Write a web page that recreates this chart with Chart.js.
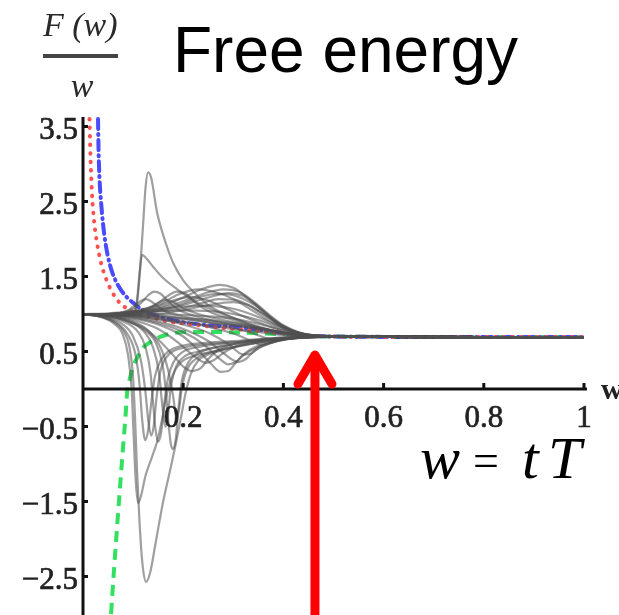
<!DOCTYPE html>
<html>
<head>
<meta charset="utf-8">
<script src="https://cdn.jsdelivr.net/npm/chart.js"></script>
<style>
  html, body { margin: 0; padding: 0; background: #fff; }
  canvas { display: block; }
</style>
</head>
<body>
<canvas id="freeEnergyChart" width="619" height="615"></canvas>
<script>
// axis ticks
const xTickValues = [0.2, 0.4, 0.6, 0.8, 1];
const xTickLabels = ['0.2', '0.4', '0.6', '0.8', '1'];
const yTickValues = [3.5, 2.5, 1.5, 0.5, -0.5, -1.5, -2.5];
const yTickLabels = ['3.5', '2.5', '1.5', '0.5', '\u22120.5', '\u22121.5', '\u22122.5'];

// F(w)/w against w, each curve as [w, F/w]
const redCurve = [[0.013, 3.6], [0.015, 3.1], [0.018, 2.6], [0.022, 2.25], [0.028, 1.95], [0.036, 1.68],
  [0.046, 1.47], [0.056, 1.32], [0.066, 1.21], [0.076, 1.13], [0.084, 1.09], [0.1, 1.03], [0.13, 0.97],
  [0.17, 0.9], [0.22, 0.86], [0.27, 0.82], [0.32, 0.79], [0.36, 0.77], [0.4, 0.74], [0.45, 0.71],
  [0.5, 0.7], [0.6, 0.695], [0.8, 0.693], [1, 0.693]];

const blueCurve = [[0.03, 3.6], [0.031, 3.2], [0.033, 2.8], [0.036, 2.5], [0.04, 2.2], [0.046, 1.9],
  [0.054, 1.65], [0.064, 1.46], [0.076, 1.32], [0.088, 1.22], [0.1, 1.15], [0.12, 1.05], [0.15, 0.97],
  [0.2, 0.89], [0.25, 0.85], [0.3, 0.83], [0.35, 0.79], [0.4, 0.745], [0.45, 0.71], [0.5, 0.7],
  [0.6, 0.695], [0.8, 0.693], [1, 0.693]];

const greenCurve = [[0.056, -3.0], [0.062, -2.4], [0.068, -1.84], [0.074, -1.3], [0.08, -0.77], [0.085, -0.35],
  [0.088, -0.05], [0.094, 0.15], [0.1, 0.3], [0.11, 0.44], [0.12, 0.55], [0.135, 0.63], [0.148, 0.68],
  [0.165, 0.72], [0.184, 0.75], [0.22, 0.76], [0.27, 0.76], [0.33, 0.75], [0.4, 0.73], [0.45, 0.71],
  [0.5, 0.7], [0.6, 0.695], [0.8, 0.693], [1, 0.693]];

const grayCurves = [
  // bumps above the bundle
  [[0, 1], [0.05, 1.0], [0.1, 1.03], [0.15, 1.08], [0.2, 1.22], [0.24, 1.34], [0.273, 1.39], [0.3, 1.35], [0.32, 1.26], [0.345, 1.12], [0.367, 0.99], [0.4, 0.81], [0.427, 0.75], [0.45, 0.72], [0.5, 0.703], [0.6, 0.695], [0.8, 0.693], [1, 0.693]],
  [[0, 1], [0.05, 1.01], [0.1, 1.04], [0.15, 1.12], [0.19, 1.26], [0.23, 1.33], [0.26, 1.3], [0.3, 1.2], [0.34, 1.04], [0.38, 0.88], [0.42, 0.77], [0.46, 0.715], [0.5, 0.703], [0.6, 0.695], [0.8, 0.693], [1, 0.693]],
  [[0, 1], [0.05, 0.99], [0.1, 1.0], [0.15, 1.04], [0.2, 1.12], [0.25, 1.22], [0.29, 1.28], [0.32, 1.24], [0.35, 1.1], [0.38, 0.93], [0.41, 0.8], [0.44, 0.73], [0.48, 0.705], [0.6, 0.695], [0.8, 0.693], [1, 0.693]],
  [[0, 1], [0.05, 1.0], [0.1, 1.02], [0.14, 1.08], [0.18, 1.18], [0.215, 1.23], [0.25, 1.18], [0.29, 1.06], [0.33, 0.94], [0.37, 0.84], [0.41, 0.76], [0.45, 0.715], [0.5, 0.702], [0.6, 0.695], [0.8, 0.693], [1, 0.693]],
  [[0, 1], [0.05, 0.99], [0.1, 0.99], [0.15, 1.0], [0.2, 1.05], [0.25, 1.12], [0.3, 1.16], [0.33, 1.12], [0.36, 1.0], [0.39, 0.87], [0.42, 0.77], [0.45, 0.72], [0.5, 0.703], [0.6, 0.695], [0.8, 0.693], [1, 0.693]],
  [[0, 1], [0.05, 1.0], [0.1, 1.01], [0.15, 1.05], [0.2, 1.14], [0.24, 1.24], [0.27, 1.27], [0.3, 1.25], [0.34, 1.13], [0.37, 0.98], [0.4, 0.84], [0.43, 0.75], [0.46, 0.712], [0.5, 0.703], [0.6, 0.695], [0.8, 0.693], [1, 0.693]],
  [[0, 1], [0.05, 1.0], [0.1, 1.02], [0.15, 1.07], [0.2, 1.17], [0.25, 1.29], [0.28, 1.33], [0.31, 1.3], [0.34, 1.17], [0.37, 1.0], [0.4, 0.85], [0.43, 0.76], [0.46, 0.715], [0.5, 0.703], [0.6, 0.695], [0.8, 0.693], [1, 0.693]],
  [[0, 1], [0.05, 1.0], [0.1, 1.01], [0.15, 1.03], [0.2, 1.08], [0.24, 1.15], [0.27, 1.2], [0.31, 1.18], [0.34, 1.08], [0.37, 0.95], [0.4, 0.83], [0.43, 0.75], [0.46, 0.712], [0.5, 0.703], [0.6, 0.695], [0.8, 0.693], [1, 0.693]],
  // early small bumps
  [[0, 1], [0.05, 1.0], [0.09, 1.04], [0.115, 1.14], [0.13, 1.25], [0.142, 1.3], [0.155, 1.27], [0.17, 1.17], [0.19, 1.06], [0.22, 0.98], [0.27, 0.9], [0.33, 0.82], [0.39, 0.75], [0.44, 0.71], [0.5, 0.7], [0.6, 0.695], [0.8, 0.693], [1, 0.693]],
  [[0, 1], [0.05, 1.0], [0.1, 1.03], [0.14, 1.1], [0.165, 1.22], [0.187, 1.3], [0.205, 1.27], [0.225, 1.15], [0.25, 1.04], [0.29, 0.94], [0.34, 0.84], [0.4, 0.75], [0.45, 0.71], [0.5, 0.7], [0.6, 0.695], [0.8, 0.693], [1, 0.693]],
  [[0, 1], [0.05, 1.0], [0.1, 1.02], [0.13, 1.08], [0.15, 1.15], [0.165, 1.19], [0.18, 1.16], [0.2, 1.08], [0.23, 1.0], [0.28, 0.92], [0.34, 0.83], [0.4, 0.75], [0.45, 0.71], [0.5, 0.7], [0.6, 0.695], [0.8, 0.693], [1, 0.693]],
  [[0, 1], [0.05, 1.0], [0.09, 1.05], [0.11, 1.15], [0.125, 1.2], [0.14, 1.15], [0.16, 1.05], [0.2, 0.97], [0.26, 0.9], [0.32, 0.83], [0.38, 0.76], [0.44, 0.71], [0.5, 0.7], [0.6, 0.695], [0.8, 0.693], [1, 0.693]],
  // spikes
  [[0, 1], [0.05, 0.99], [0.09, 0.98], [0.102, 1.0], [0.108, 1.15], [0.114, 1.6], [0.12, 2.2], [0.125, 2.7], [0.13, 2.89], [0.136, 2.82], [0.148, 2.35], [0.165, 1.95], [0.18, 1.68], [0.2, 1.45], [0.217, 1.32], [0.25, 1.12], [0.3, 0.95], [0.35, 0.82], [0.4, 0.75], [0.45, 0.71], [0.5, 0.7], [0.7, 0.694], [1, 0.693]],
  [[0, 1], [0.05, 0.99], [0.09, 0.99], [0.102, 1.02], [0.108, 1.2], [0.113, 1.55], [0.118, 1.79], [0.124, 1.76], [0.14, 1.63], [0.16, 1.48], [0.19, 1.32], [0.22, 1.18], [0.26, 1.05], [0.32, 0.9], [0.38, 0.78], [0.44, 0.72], [0.5, 0.7], [0.7, 0.694], [1, 0.693]],
  // middle of the bundle
  [[0, 1], [0.05, 1.0], [0.1, 1.0], [0.15, 0.98], [0.2, 0.95], [0.25, 0.92], [0.3, 0.88], [0.35, 0.82], [0.4, 0.75], [0.45, 0.71], [0.5, 0.7], [0.6, 0.695], [0.8, 0.693], [1, 0.693]],
  [[0, 1], [0.05, 0.99], [0.1, 0.97], [0.15, 0.93], [0.2, 0.89], [0.25, 0.85], [0.3, 0.8], [0.35, 0.76], [0.4, 0.72], [0.45, 0.7], [0.5, 0.697], [0.6, 0.694], [0.8, 0.693], [1, 0.693]],
  [[0, 1], [0.05, 1.0], [0.1, 1.02], [0.15, 1.04], [0.2, 1.05], [0.25, 1.04], [0.3, 1.0], [0.35, 0.92], [0.4, 0.8], [0.44, 0.73], [0.5, 0.702], [0.6, 0.695], [0.8, 0.693], [1, 0.693]],
  [[0, 1], [0.05, 1.0], [0.1, 1.03], [0.15, 1.06], [0.2, 1.1], [0.25, 1.11], [0.3, 1.07], [0.35, 0.96], [0.39, 0.84], [0.43, 0.75], [0.47, 0.71], [0.52, 0.7], [0.6, 0.695], [0.8, 0.693], [1, 0.693]],
  [[0, 1], [0.05, 0.99], [0.1, 0.98], [0.15, 0.96], [0.2, 0.93], [0.26, 0.88], [0.32, 0.84], [0.38, 0.78], [0.43, 0.72], [0.5, 0.7], [0.6, 0.695], [0.8, 0.693], [1, 0.693]],
  [[0, 1], [0.05, 1.0], [0.1, 1.01], [0.15, 1.0], [0.2, 0.99], [0.25, 0.97], [0.3, 0.94], [0.35, 0.87], [0.4, 0.78], [0.44, 0.72], [0.5, 0.701], [0.6, 0.695], [0.8, 0.693], [1, 0.693]],
  // loops below the bundle
  [[0, 1], [0.04, 0.98], [0.08, 0.93], [0.12, 0.82], [0.15, 0.66], [0.18, 0.45], [0.2, 0.3], [0.218, 0.24], [0.235, 0.28], [0.25, 0.4], [0.27, 0.52], [0.3, 0.6], [0.35, 0.66], [0.4, 0.69], [0.45, 0.7], [0.5, 0.7], [0.6, 0.695], [0.8, 0.693], [1, 0.693]],
  [[0, 1], [0.05, 0.98], [0.1, 0.94], [0.15, 0.86], [0.2, 0.7], [0.23, 0.52], [0.255, 0.34], [0.275, 0.23], [0.29, 0.24], [0.305, 0.35], [0.32, 0.46], [0.35, 0.58], [0.4, 0.66], [0.45, 0.69], [0.5, 0.7], [0.6, 0.695], [0.8, 0.693], [1, 0.693]],
  [[0, 1], [0.05, 0.99], [0.1, 0.96], [0.15, 0.9], [0.2, 0.8], [0.25, 0.64], [0.28, 0.48], [0.31, 0.36], [0.325, 0.4], [0.34, 0.5], [0.37, 0.6], [0.41, 0.67], [0.46, 0.695], [0.5, 0.7], [0.6, 0.695], [0.8, 0.693], [1, 0.693]],
  [[0, 1], [0.05, 0.99], [0.1, 0.97], [0.15, 0.93], [0.2, 0.86], [0.25, 0.75], [0.29, 0.6], [0.32, 0.46], [0.335, 0.47], [0.35, 0.55], [0.38, 0.63], [0.42, 0.68], [0.47, 0.697], [0.6, 0.695], [0.8, 0.693], [1, 0.693]],
  [[0, 1], [0.05, 0.99], [0.1, 0.98], [0.15, 0.95], [0.2, 0.9], [0.25, 0.83], [0.3, 0.74], [0.34, 0.63], [0.355, 0.59], [0.37, 0.61], [0.4, 0.66], [0.44, 0.69], [0.5, 0.7], [0.6, 0.695], [0.8, 0.693], [1, 0.693]],
  [[0, 1], [0.1, 0.99], [0.2, 0.94], [0.28, 0.85], [0.34, 0.74], [0.37, 0.67], [0.385, 0.65], [0.4, 0.66], [0.43, 0.68], [0.47, 0.695], [0.5, 0.7], [0.6, 0.695], [0.8, 0.693], [1, 0.693]],
  [[0, 1], [0.05, 0.98], [0.1, 0.92], [0.15, 0.8], [0.19, 0.62], [0.22, 0.45], [0.245, 0.35], [0.26, 0.38], [0.28, 0.48], [0.31, 0.58], [0.36, 0.65], [0.42, 0.69], [0.5, 0.7], [0.6, 0.695], [0.8, 0.693], [1, 0.693]],
  [[0, 1], [0.05, 0.99], [0.1, 0.95], [0.15, 0.88], [0.2, 0.76], [0.24, 0.6], [0.27, 0.42], [0.29, 0.33], [0.305, 0.36], [0.32, 0.45], [0.35, 0.56], [0.39, 0.64], [0.44, 0.69], [0.5, 0.7], [0.6, 0.695], [0.8, 0.693], [1, 0.693]],
  // dips below zero
  [[0, 1], [0.03, 0.97], [0.06, 0.9], [0.08, 0.78], [0.093, 0.55], [0.1, 0.15], [0.104, -0.4], [0.108, -1.1], [0.113, -1.8], [0.119, -2.35], [0.126, -2.57], [0.134, -2.45], [0.145, -2.05], [0.16, -1.5], [0.175, -1.05], [0.184, -0.77], [0.195, -0.4], [0.205, -0.05], [0.215, 0.2], [0.23, 0.38], [0.25, 0.46], [0.28, 0.52], [0.32, 0.58], [0.37, 0.64], [0.42, 0.68], [0.47, 0.695], [0.5, 0.7], [0.6, 0.695], [0.8, 0.693], [1, 0.693]],
  [[0, 1], [0.03, 0.97], [0.06, 0.88], [0.08, 0.72], [0.09, 0.45], [0.097, 0.0], [0.101, -0.6], [0.105, -1.2], [0.11, -1.52], [0.116, -1.42], [0.125, -1.15], [0.138, -0.9], [0.148, -0.7], [0.158, -0.4], [0.168, -0.05], [0.18, 0.2], [0.195, 0.35], [0.22, 0.44], [0.26, 0.5], [0.3, 0.56], [0.35, 0.62], [0.41, 0.67], [0.47, 0.695], [0.5, 0.7], [0.6, 0.695], [0.8, 0.693], [1, 0.693]],
  [[0, 1], [0.04, 0.96], [0.07, 0.87], [0.09, 0.72], [0.105, 0.45], [0.113, 0.05], [0.118, -0.4], [0.124, -0.68], [0.13, -0.55], [0.136, -0.2], [0.143, 0.15], [0.155, 0.38], [0.17, 0.5], [0.2, 0.58], [0.25, 0.62], [0.3, 0.64], [0.36, 0.67], [0.42, 0.69], [0.5, 0.7], [0.6, 0.695], [0.8, 0.693], [1, 0.693]],
  [[0, 1], [0.04, 0.97], [0.08, 0.9], [0.11, 0.76], [0.125, 0.55], [0.135, 0.2], [0.14, -0.2], [0.145, -0.55], [0.15, -0.7], [0.156, -0.58], [0.162, -0.2], [0.17, 0.15], [0.18, 0.35], [0.2, 0.5], [0.23, 0.56], [0.27, 0.6], [0.33, 0.64], [0.4, 0.68], [0.47, 0.697], [0.6, 0.695], [0.8, 0.693], [1, 0.693]],
  [[0, 1], [0.05, 0.97], [0.09, 0.9], [0.12, 0.8], [0.145, 0.62], [0.158, 0.35], [0.165, 0.0], [0.17, -0.4], [0.175, -0.72], [0.179, -0.8], [0.185, -0.68], [0.19, -0.3], [0.197, 0.1], [0.21, 0.35], [0.23, 0.48], [0.26, 0.55], [0.3, 0.6], [0.36, 0.65], [0.42, 0.685], [0.5, 0.7], [0.6, 0.695], [0.8, 0.693], [1, 0.693]],
  [[0, 1], [0.04, 0.96], [0.08, 0.86], [0.1, 0.7], [0.115, 0.4], [0.124, 0.0], [0.13, -0.4], [0.136, -0.62], [0.141, -0.5], [0.147, -0.1], [0.155, 0.25], [0.17, 0.45], [0.2, 0.55], [0.25, 0.6], [0.31, 0.63], [0.38, 0.67], [0.45, 0.69], [0.5, 0.7], [0.6, 0.695], [0.8, 0.693], [1, 0.693]],
  [[0, 1], [0.05, 0.97], [0.09, 0.9], [0.12, 0.78], [0.14, 0.55], [0.152, 0.2], [0.158, -0.2], [0.164, -0.5], [0.169, -0.4], [0.174, -0.05], [0.183, 0.25], [0.2, 0.42], [0.23, 0.5], [0.27, 0.56], [0.33, 0.62], [0.4, 0.67], [0.47, 0.695], [0.6, 0.695], [0.8, 0.693], [1, 0.693]],
  [[0, 1], [0.05, 0.98], [0.1, 0.9], [0.13, 0.78], [0.155, 0.55], [0.17, 0.25], [0.18, -0.1], [0.186, -0.35], [0.191, -0.3], [0.197, 0.0], [0.207, 0.25], [0.225, 0.4], [0.26, 0.5], [0.3, 0.56], [0.36, 0.63], [0.43, 0.68], [0.5, 0.7], [0.6, 0.695], [0.8, 0.693], [1, 0.693]]
];

// red arrow marking where the curves settle
const arrowW = 0.463;
const arrowTip = 0.48;

const toPoints = curve => curve.map(p => ({ x: p[0], y: p[1] }));

// gray family drawn over the three coloured limits
const datasets = [];
grayCurves.forEach(curve => {
  datasets.push({
    data: toPoints(curve),
    borderColor: 'rgba(80, 80, 80, 0.55)',
    borderWidth: 2.2,
    order: 1
  });
});
datasets.push({
  data: toPoints(redCurve),
  borderColor: '#ff5050',
  borderWidth: 4,
  borderDash: [0.5, 8],
  borderCapStyle: 'round',
  order: 2
});
datasets.push({
  data: toPoints(blueCurve),
  borderColor: '#4a4aff',
  borderWidth: 4,
  borderDash: [10, 5, 1, 5],
  borderCapStyle: 'round',
  order: 2
});
datasets.push({
  data: toPoints(greenCurve),
  borderColor: '#33e060',
  borderWidth: 4,
  borderDash: [11, 7],
  order: 2
});

// the plot itself comes from a soft scan, the slide text on top is sharp
const decorations = {
  id: 'decorations',
  beforeDatasetsDraw(chart) {
    chart.ctx.filter = 'blur(0.6px)';
  },
  afterDatasetsDraw(chart) {
    const ctx = chart.ctx;
    const xs = chart.scales.x;
    const ys = chart.scales.y;
    const area = chart.chartArea;
    const x0 = xs.getPixelForValue(0);
    const y0 = ys.getPixelForValue(0);

    ctx.save();
    ctx.filter = 'blur(0.6px)';
    ctx.strokeStyle = '#111';
    ctx.fillStyle = '#111';
    ctx.lineWidth = 3;

    // y axis
    ctx.beginPath();
    ctx.moveTo(x0, area.top);
    ctx.lineTo(x0, area.bottom);
    ctx.stroke();
    // x axis
    ctx.beginPath();
    ctx.moveTo(x0, y0);
    ctx.lineTo(xs.getPixelForValue(1) + 3, y0);
    ctx.stroke();

    // tick marks
    xTickValues.forEach(v => {
      const px = xs.getPixelForValue(v);
      ctx.beginPath();
      ctx.moveTo(px, y0);
      ctx.lineTo(px, y0 - 6);
      ctx.stroke();
    });
    yTickValues.forEach(v => {
      const py = ys.getPixelForValue(v);
      ctx.beginPath();
      ctx.moveTo(x0, py);
      ctx.lineTo(x0 + 5, py);
      ctx.stroke();
    });

    // tick labels, slightly heavier than the plain face
    ctx.fillStyle = '#222';
    ctx.strokeStyle = '#222';
    ctx.lineWidth = 0.7;
    ctx.font = '31px "Liberation Serif"';
    ctx.textAlign = 'right';
    ctx.textBaseline = 'alphabetic';
    yTickValues.forEach((v, i) => {
      const py = ys.getPixelForValue(v) + 12;
      ctx.fillText(yTickLabels[i], x0 - 5, py);
      ctx.strokeText(yTickLabels[i], x0 - 5, py);
    });
    ctx.textAlign = 'center';
    xTickValues.forEach((v, i) => {
      const px = xs.getPixelForValue(v);
      ctx.fillText(xTickLabels[i], px, y0 + 38);
      ctx.strokeText(xTickLabels[i], px, y0 + 38);
    });

    // axis names
    ctx.textAlign = 'left';
    ctx.font = 'bold 30px "Liberation Serif"';
    ctx.fillText('w', 601, y0 + 10);
    ctx.font = 'italic 34px "Liberation Serif"';
    ctx.fillStyle = '#2a2a2a';
    ctx.fillText('F (w)', 43, 36);
    ctx.fillStyle = '#444';
    ctx.fillRect(43, 54, 75, 4);
    ctx.fillStyle = '#2a2a2a';
    ctx.textAlign = 'center';
    ctx.fillText('w', 82, 97);

    // title
    ctx.filter = 'none';
    ctx.fillStyle = '#000';
    ctx.textAlign = 'left';
    ctx.font = '64px "Liberation Sans"';
    ctx.fillText('Free energy', 173, 72);

    // w = tT
    ctx.font = 'italic 60px "Liberation Serif"';
    ctx.fillText('w', 420, 478);
    ctx.fillText('t', 522, 478);
    ctx.fillText('T', 548, 478);
    ctx.font = '46px "Liberation Serif"';
    ctx.fillText('=', 473, 476);

    // red arrow
    const ax = xs.getPixelForValue(arrowW);
    const ay = ys.getPixelForValue(arrowTip);
    ctx.strokeStyle = '#ff0000';
    ctx.lineWidth = 9;
    ctx.lineCap = 'round';
    ctx.lineJoin = 'round';
    ctx.beginPath();
    ctx.moveTo(ax, area.bottom + 10);
    ctx.lineTo(ax, ay + 3);
    ctx.stroke();
    ctx.beginPath();
    ctx.moveTo(ax - 17, ay + 31);
    ctx.lineTo(ax, ay + 2);
    ctx.lineTo(ax + 17, ay + 31);
    ctx.stroke();
    ctx.restore();
  }
};

new Chart(document.getElementById('freeEnergyChart'), {
  type: 'line',
  data: { datasets: datasets },
  options: {
    responsive: false,
    animation: false,
    devicePixelRatio: 1,
    layout: { padding: { left: 83, right: 35, top: 117, bottom: 0 } },
    elements: {
      point: { radius: 0 },
      line: { cubicInterpolationMode: 'monotone', fill: false }
    },
    scales: {
      x: { type: 'linear', min: 0, max: 1, display: false },
      y: { type: 'linear', min: -3.013, max: 3.627, display: false }
    },
    plugins: {
      legend: { display: false },
      tooltip: { enabled: false }
    }
  },
  plugins: [decorations]
});
</script>
</body>
</html>
